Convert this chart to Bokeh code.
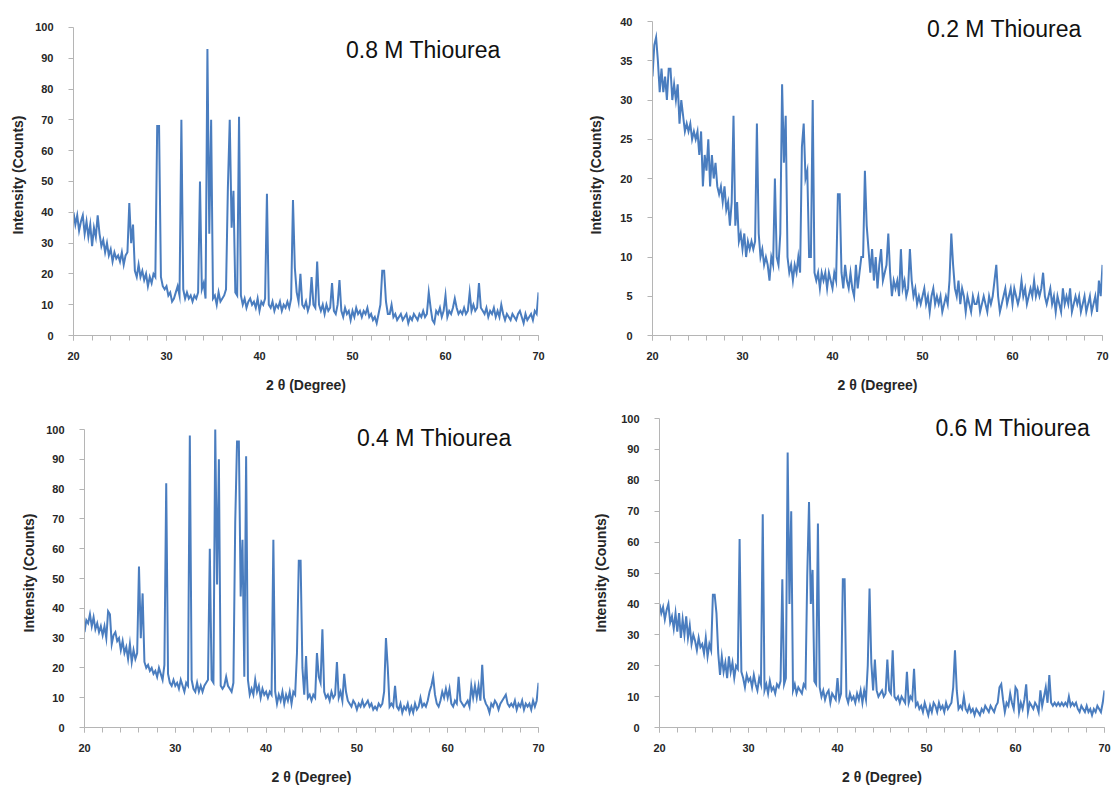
from bokeh.plotting import figure
from bokeh.layouts import column, row
from bokeh.models import Range1d, FixedTicker, Label
from bokeh.embed import file_html
from bokeh.resources import INLINE

# ---------------- data ----------------
scan_start = 20.0   # degrees 2-theta
scan_step = 0.2     # degrees per sample

x_major_ticks = [20, 30, 40, 50, 60, 70]
x_minor_ticks = [20, 22, 24, 26, 28, 30, 32, 34, 36, 38, 40, 42, 44, 46, 48, 50,
                 52, 54, 56, 58, 60, 62, 64, 66, 68, 70]
y_ticks_100 = [0, 10, 20, 30, 40, 50, 60, 70, 80, 90, 100]
y_ticks_40 = [0, 5, 10, 15, 20, 25, 30, 35, 40]

labels = ["0.8 M Thiourea", "0.2 M Thiourea", "0.4 M Thiourea", "0.6 M Thiourea"]

counts_08M = [
    40, 36, 39, 34, 37,
    39, 33, 37, 32, 36,
    29, 35, 32, 39, 33,
    29, 31, 27, 30, 26,
    28, 24, 27, 25, 26,
    24, 27, 23, 26, 27,
    43, 30, 36, 21, 19,
    23, 19, 21, 18, 20,
    16, 19, 17, 20, 19,
    68, 68, 19, 16, 15,
    16, 13, 14, 11, 12,
    14, 16, 13, 70, 15,
    12, 14, 12, 13, 11,
    13, 12, 14, 50, 15,
    17, 12, 93, 33, 70,
    12, 13, 10, 14, 11,
    12, 13, 15, 48, 70,
    35, 47, 14, 13, 71,
    13, 10, 12, 9, 11,
    12, 10, 11, 9, 12,
    8, 11, 10, 12, 46,
    10, 9, 11, 8, 10,
    9, 11, 8, 10, 9,
    11, 9, 12, 44, 22,
    14, 11, 20, 10, 9,
    11, 8, 10, 19, 10,
    9, 24, 10, 8, 10,
    7, 10, 8, 9, 17,
    8, 7, 10, 18, 8,
    6, 9, 7, 8, 5,
    8, 6, 9, 7, 8,
    6, 8, 7, 9, 6,
    7, 5, 6, 4, 7,
    10, 21, 21, 11, 7,
    7, 10, 6, 7, 5,
    6, 7, 5, 6, 7,
    4, 6, 5, 7, 6,
    5, 7, 6, 8, 6,
    7, 14, 9, 5, 4,
    8, 7, 9, 6, 8,
    13, 6, 8, 7, 9,
    12, 9, 7, 8, 7,
    9, 7, 8, 14, 8,
    10, 8, 9, 17, 9,
    8, 7, 9, 6, 8,
    7, 9, 6, 8, 6,
    10, 7, 5, 7, 6,
    5, 7, 6, 5, 7,
    8, 6, 4, 7, 5,
    6, 7, 5, 8, 7,
    14,
]

counts_02M = [
    33, 37, 38, 35, 31,
    34, 31, 33, 30, 34,
    34, 30, 32, 30, 32,
    27, 30, 28, 26, 27,
    26, 27, 25, 26, 25,
    26, 23, 26, 19, 23,
    21, 25, 19, 23, 20,
    22, 19, 18, 19, 17,
    19, 16, 17, 14, 17,
    28, 14, 17, 12, 13,
    11, 13, 10, 12, 11,
    12, 11, 12, 27, 13,
    10, 11, 9, 10, 9,
    7, 10, 9, 20, 10,
    9, 13, 32, 22, 28,
    10, 8, 9, 7, 9,
    8, 10, 8, 24, 27,
    20, 21, 10, 10, 30,
    8, 7, 8, 6, 8,
    7, 8, 6, 8, 7,
    6, 8, 7, 18, 18,
    8, 6, 9, 7, 6,
    8, 6, 5, 9, 6,
    8, 10, 10, 21, 14,
    11, 8, 11, 7, 10,
    6, 9, 11, 7, 8,
    9, 13, 8, 5, 7,
    6, 7, 5, 11, 6,
    7, 5, 6, 11, 7,
    5, 6, 4, 5, 4,
    5, 6, 4, 5, 3,
    5, 6, 4, 5, 4,
    5, 3, 4, 5, 4,
    7, 13, 9, 6, 5,
    7, 4, 6, 5, 3,
    5, 4, 3, 5, 4,
    4, 5, 3, 4, 5,
    4, 3, 5, 4, 5,
    7, 9, 5, 3, 4,
    5, 6, 4, 5, 6,
    4, 6, 5, 4, 5,
    7, 5, 6, 4, 5,
    6, 5, 7, 5, 6,
    5, 6, 8, 5, 4,
    5, 6, 4, 5, 3,
    5, 4, 3, 6, 4,
    5, 4, 6, 3, 4,
    5, 4, 5, 3, 4,
    5, 3, 4, 5, 3,
    4, 5, 3, 7, 5,
    9,
]

counts_04M = [
    32, 36, 35, 38, 34,
    37, 33, 35, 32, 34,
    31, 34, 30, 39, 38,
    28, 31, 32, 29, 30,
    26, 29, 25, 27, 23,
    28, 22, 26, 23, 25,
    54, 30, 45, 22, 20,
    21, 19, 20, 18, 19,
    17, 20, 18, 16, 21,
    82, 18, 15, 14, 16,
    14, 15, 13, 16, 14,
    12, 15, 14, 98, 16,
    13, 12, 15, 12, 14,
    12, 14, 15, 16, 60,
    16, 15, 100, 48, 90,
    14, 13, 14, 17, 14,
    13, 12, 15, 69, 96,
    96, 44, 63, 17, 91,
    16, 11, 13, 11, 16,
    12, 14, 10, 13, 11,
    12, 10, 12, 11, 63,
    12, 8, 11, 9, 12,
    8, 11, 9, 12, 8,
    12, 11, 25, 56, 56,
    20, 11, 24, 10, 11,
    9, 11, 10, 25, 17,
    15, 33, 12, 10, 11,
    9, 12, 10, 11, 22,
    10, 12, 9, 18, 12,
    9, 8, 7, 9, 8,
    6, 8, 7, 9, 7,
    8, 9, 7, 8, 6,
    7, 6, 8, 7, 8,
    12, 30, 20, 7, 8,
    7, 14, 7, 6, 8,
    5, 7, 6, 8, 5,
    7, 5, 8, 6, 7,
    10, 7, 8, 7, 9,
    12, 14, 17, 11, 8,
    7, 9, 12, 10, 13,
    10, 13, 8, 7, 9,
    8, 17, 9, 8, 7,
    8, 9, 7, 14, 10,
    14, 10, 14, 9, 21,
    10, 8, 7, 5, 8,
    7, 9, 8, 6, 8,
    9, 10, 11, 8, 7,
    8, 7, 9, 6, 8,
    7, 9, 6, 8, 7,
    8, 6, 9, 7, 9,
    15,
]

counts_06M = [
    40, 37, 39, 35, 38,
    40, 34, 36, 32, 37,
    31, 37, 29, 35, 30,
    36, 29, 33, 27, 30,
    28, 25, 29, 26, 27,
    24, 29, 23, 27, 25,
    43, 43, 37, 24, 17,
    23, 18, 21, 16, 23,
    18, 21, 16, 20, 19,
    61, 18, 16, 13, 17,
    15, 16, 13, 17, 14,
    12, 16, 14, 69, 12,
    14, 11, 15, 12, 13,
    11, 14, 13, 15, 48,
    14, 16, 89, 40, 70,
    12, 14, 11, 13, 12,
    11, 14, 13, 49, 73,
    40, 51, 15, 14, 66,
    13, 10, 12, 9, 11,
    12, 8, 11, 10, 9,
    16, 9, 11, 48, 48,
    10, 8, 11, 9, 10,
    8, 11, 9, 12, 8,
    12, 9, 20, 45, 21,
    12, 22, 12, 10, 11,
    12, 10, 11, 22, 12,
    11, 25, 10, 9, 10,
    8, 10, 9, 8, 18,
    8, 10, 9, 19, 7,
    8, 6, 7, 5, 8,
    6, 4, 7, 5, 8,
    7, 5, 8, 6, 7,
    5, 8, 6, 7, 8,
    13, 25, 12, 6, 7,
    6, 10, 6, 5, 7,
    5, 6, 4, 6, 5,
    4, 6, 5, 7, 6,
    5, 7, 6, 5, 7,
    8, 13, 14, 9, 5,
    8, 7, 11, 8, 6,
    13, 12, 5, 8, 6,
    9, 14, 5, 8, 7,
    6, 8, 7, 5, 12,
    7, 10, 13, 8, 17,
    8, 7, 8, 7, 8,
    7, 8, 7, 8, 7,
    10, 7, 8, 7, 8,
    6, 5, 7, 6, 5,
    7, 5, 6, 4, 6,
    5, 7, 6, 5, 8,
    12,
]

# ---------------- styling ----------------
BLUE = "#4A7DBF"
AXIS_GREY = "#B5B5B5"
TEXT_DARK = "#262626"
FONT = "Liberation Sans"


def two_theta(series):
    return [round(scan_start + i * scan_step, 2) for i in range(len(series))]


def make_panel(series, label, yticks, yview, width, height, borders,
               label_pos, ytitle_standoff):
    left, right, top, bottom = borders
    p = figure(width=width, height=height,
               x_range=Range1d(20, 70), y_range=Range1d(*yview),
               output_backend="svg", toolbar_location=None,
               min_border_left=left, min_border_right=right,
               min_border_top=top, min_border_bottom=bottom,
               background_fill_color="white", border_fill_color="white")
    p.outline_line_color = None
    p.xgrid.visible = False
    p.ygrid.visible = False

    p.line(two_theta(series), series, line_color=BLUE, line_width=2.0,
           line_join="miter")

    xa = p.xaxis[0]
    xa.ticker = FixedTicker(ticks=x_major_ticks, minor_ticks=x_minor_ticks)
    xa.axis_label = "2 \u03b8 (Degree)"
    ya = p.yaxis[0]
    ya.ticker = FixedTicker(ticks=yticks)
    ya.bounds = (yticks[0], yticks[-1])
    ya.axis_label = "Intensity (Counts)"

    for ax in (xa, ya):
        ax.axis_line_color = AXIS_GREY
        ax.axis_line_width = 1
        ax.major_tick_line_color = AXIS_GREY
        ax.minor_tick_line_color = AXIS_GREY
        ax.major_tick_in = 0
        ax.major_tick_out = 5
        ax.minor_tick_in = 0
        ax.major_label_text_font = FONT
        ax.major_label_text_font_size = "11px"
        ax.major_label_text_font_style = "bold"
        ax.major_label_text_color = TEXT_DARK
        ax.axis_label_text_font = FONT
        ax.axis_label_text_font_size = "14px"
        ax.axis_label_text_font_style = "bold"
        ax.axis_label_text_color = TEXT_DARK
    xa.minor_tick_out = 5
    xa.major_label_standoff = 11
    xa.axis_label_standoff = 14
    ya.minor_tick_out = 0
    ya.minor_tick_line_color = None
    ya.major_label_standoff = 15
    ya.axis_label_standoff = ytitle_standoff

    lx, ly = label_pos
    p.add_layout(Label(x=lx, y=ly, text=label, text_font=FONT,
                       text_font_size="23px", text_color="#111111",
                       text_align="left", text_baseline="middle"))
    return p


# top row: shared frame top/bottom; bottom row likewise
p1 = make_panel(counts_08M, labels[0], y_ticks_100, (0, 104.2), 575, 400,
                (73, 37, 14, 65), (49.3, 92.7), 6)
p2 = make_panel(counts_02M, labels[1], y_ticks_40, (0, 40.9), 539, 400,
                (77, 12, 14, 65), (50.5, 39.0), 13)
p3 = make_panel(counts_04M, labels[2], y_ticks_100, (0, 103.7), 580, 387,
                (84, 42, 18, 59), (50.0, 97.0), 6)
p4 = make_panel(counts_06M, labels[3], y_ticks_100, (0, 100), 534, 387,
                (79, 10, 18, 59), (51.0, 96.8), 9)

layout = column(row(p1, p2), row(p3, p4))

open("out.html", "w").write(file_html(layout, INLINE))
